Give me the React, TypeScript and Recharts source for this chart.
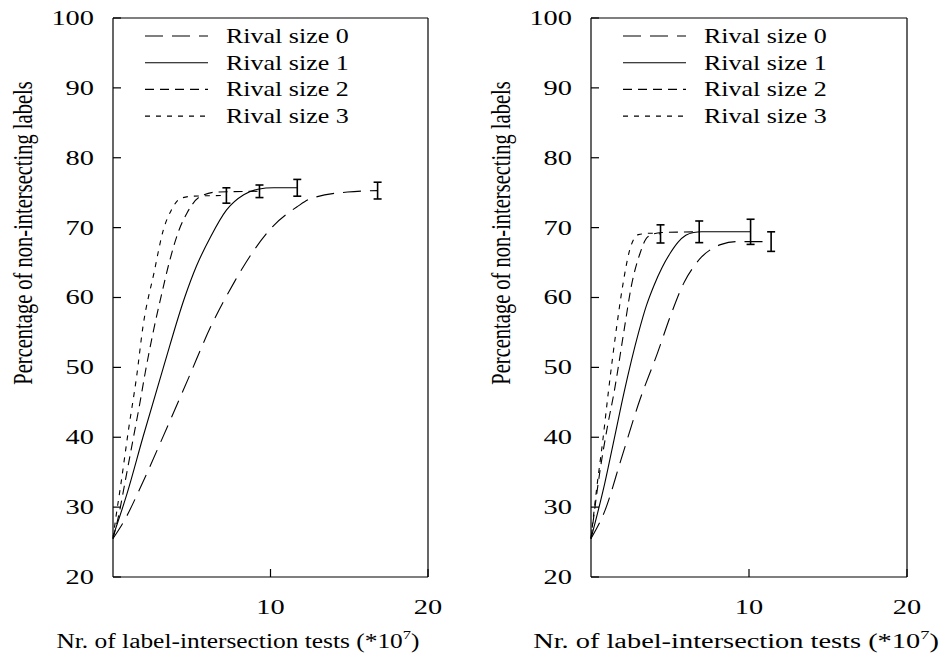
import { LineChart, Line, XAxis, YAxis, ErrorBar } from "recharts";

// gnuplot-ish look: Times-like serif, text stretched horizontally like the original figure
const FONT = "'Liberation Serif', 'DejaVu Serif', serif";
const FS = 20;
const SX = 1.3;
const TICK_SX = 1.42;

const yTicks = [20, 30, 40, 50, 60, 70, 80, 90, 100];
const xTicks = [10, 20];
const seriesNames = ["Rival size 0", "Rival size 1", "Rival size 2", "Rival size 3"];
const dashes = ["18 9", "", "9 6", "5 6"];

type Pt = [number, number];

// left panel curves (x in 10^7 tests, y in %)
const leftRival0: Pt[] = [[0, 25.5], [0.7, 28], [1.9, 33.6], [3.2, 40.2], [4.8, 48.5], [6.2, 55.8], [7.7, 62.2], [8.9, 66.6], [10.2, 70.3], [11.7, 73], [12.5, 74.1], [14.9, 75.1], [16.8, 75.3]];
const leftRival1: Pt[] = [[0, 25.8], [0.9, 32], [1.9, 40], [3.2, 50], [4.55, 60], [5.3, 64.5], [6.2, 68.7], [7.2, 72.5], [8.3, 74.7], [9.2, 75.5], [10.2, 75.7], [11.7, 75.7]];
const leftRival2: Pt[] = [[0, 25.5], [0.35, 28.7], [0.8, 34], [1.3, 40], [1.7, 44.8], [2.05, 49.3], [2.5, 54.5], [3.1, 60.6], [3.5, 64.4], [4.2, 69.7], [4.7, 72.1], [5.5, 74.4], [6.6, 75.1], [9.3, 75.2]];
const leftRival3: Pt[] = [[0, 25.5], [0.15, 28], [0.5, 33.3], [1.0, 41.3], [1.5, 48.7], [1.9, 55.8], [2.6, 63.5], [3.2, 69.7], [3.7, 72.5], [4.3, 74.2], [5.1, 74.5], [7.2, 74.6]];
const leftErrors = [1.2, 1.2, 0.9, 1.1];

// right panel curves
const rightRival0: Pt[] = [[0, 25.5], [0.9, 29.6], [1.9, 36.8], [3.1, 45.4], [4.2, 52], [5.1, 57.8], [5.9, 62.2], [6.5, 64.4], [7.0, 65.8], [7.6, 66.9], [8.25, 67.6], [9.3, 68], [11.4, 68]];
const rightRival1: Pt[] = [[0, 25.5], [0.87, 33.4], [1.5, 40.1], [2.1, 46.5], [3.0, 54.9], [3.5, 58.8], [4.0, 61.8], [4.5, 64.3], [5.0, 66.3], [5.5, 67.9], [6.0, 68.9], [6.5, 69.3], [7.0, 69.4], [10.1, 69.4]];
const rightRival2: Pt[] = [[0, 25.5], [0.55, 34.9], [1.08, 42], [1.45, 46.3], [2.1, 55.4], [2.55, 61.6], [3.1, 66.3], [3.6, 68.7], [4.45, 69.3], [6.85, 69.4]];
const rightRival3: Pt[] = [[0, 25.5], [0.35, 32.5], [0.75, 39.6], [1.1, 46.5], [1.6, 55.4], [2.0, 61.6], [2.45, 66.8], [3.0, 69.0], [3.8, 69.2], [4.4, 69.1]];
const rightErrors = [1.4, 1.8, 1.55, 1.3];

// error bar only on the last measured point of each curve
const toRows = (pts: Pt[], err: number) =>
  pts.map(([x, y], i) => ({ x, y, err: i === pts.length - 1 ? err : undefined }));

const txt = { fontFamily: FONT, fontSize: FS, fill: "#000" };
const axisLine = { stroke: "#000", strokeWidth: 1.2 };

const YTickLeft = (p: any) => (
  <g>
    <line x1={p.x} x2={p.x + 8} y1={p.y} y2={p.y} stroke="#000" strokeWidth={1.2} />
    <text transform={`translate(${p.x - 19},${p.y}) scale(${TICK_SX},1)`} textAnchor="end" dominantBaseline="central" {...txt}>
      {p.payload.value}
    </text>
  </g>
);
const YTickRight = (p: any) => (
  <line x1={p.x - 8} x2={p.x} y1={p.y} y2={p.y} stroke="#000" strokeWidth={1.2} />
);
const XTickBottom = (p: any) => (
  <g>
    <line x1={p.x} x2={p.x} y1={p.y - 8} y2={p.y} stroke="#000" strokeWidth={1.2} />
    <text transform={`translate(${p.x},${p.y + 30}) scale(${TICK_SX},1)`} textAnchor="middle" dominantBaseline="central" {...txt}>
      {p.payload.value}
    </text>
  </g>
);
const XTickTop = (p: any) => (
  <line x1={p.x} x2={p.x} y1={p.y} y2={p.y + 8} stroke="#000" strokeWidth={1.2} />
);

const W = 472;
const H = 657;
const TOP = 18;
const BOTTOM = 80;
const AX = 1; // axis band thickness, kept minimal so the margins place the plot box

interface PanelProps {
  series: Pt[][];
  errors: number[];
  plotLeft: number;
  marginRight: number;
  titleCenter: number;
  titleScale: number;
}

const Panel = ({ series, errors, plotLeft, marginRight, titleCenter, titleScale }: PanelProps) => {
  const rows = series.map((s, i) => toRows(s, errors[i]));
  return (
    <div style={{ position: "relative", width: W, height: H }}>
      <LineChart width={W} height={H}
        margin={{ top: TOP - AX, right: marginRight - AX, bottom: BOTTOM - AX, left: plotLeft - AX }}>
        <XAxis xAxisId="bottom" type="number" dataKey="x" domain={[0, 20]} ticks={xTicks} interval={0} height={AX}
          tickSize={0} tickMargin={0} tickLine={false} axisLine={axisLine} tick={(p: any) => <XTickBottom {...p} />} />
        <XAxis xAxisId="top" orientation="top" type="number" dataKey="x" domain={[0, 20]} ticks={xTicks} interval={0} height={AX}
          tickSize={0} tickMargin={0} tickLine={false} axisLine={axisLine} tick={(p: any) => <XTickTop {...p} />} />
        <YAxis yAxisId="left" type="number" domain={[20, 100]} ticks={yTicks} interval={0} width={AX}
          tickSize={0} tickMargin={0} tickLine={false} axisLine={axisLine} tick={(p: any) => <YTickLeft {...p} />} />
        <YAxis yAxisId="right" orientation="right" type="number" domain={[20, 100]} ticks={yTicks} interval={0} width={AX}
          tickSize={0} tickMargin={0} tickLine={false} axisLine={axisLine} tick={(p: any) => <YTickRight {...p} />} />
        {rows.map((data, i) => (
          <Line key={seriesNames[i]} xAxisId="bottom" yAxisId="left" data={data} dataKey="y" name={seriesNames[i]}
            type="monotone" stroke="#000" strokeWidth={1.1} strokeDasharray={dashes[i] || undefined} dot={false}
            isAnimationActive={false}>
            <ErrorBar dataKey="err" width={4} stroke="#000" strokeWidth={1.6} direction="y" />
          </Line>
        ))}
      </LineChart>
      <svg width={W} height={H} style={{ position: "absolute", left: 0, top: 0, pointerEvents: "none" }}>
        {seriesNames.map((name, i) => {
          const y = 36 + i * 26.7;
          return (
            <g key={name}>
              <line x1={plotLeft + 32} x2={plotLeft + 95} y1={y} y2={y} stroke="#000" strokeWidth={1.1}
                strokeDasharray={dashes[i] || undefined} />
              <text transform={`translate(${plotLeft + 113},${y}) scale(${SX},1)`} dominantBaseline="central" {...txt}>
                {name}
              </text>
            </g>
          );
        })}
        <text transform={`translate(${plotLeft - 90},233) scale(${SX},1) rotate(-90)`} textAnchor="middle"
          dominantBaseline="central" {...txt} fontSize={20.5}>
          Percentage of non-intersecting labels
        </text>
        <text transform={`translate(${titleCenter},648) scale(${titleScale},1)`} textAnchor="middle" {...txt}>
          Nr. of label-intersection tests (*10<tspan dy={-9} fontSize={13}>7</tspan><tspan dy={9}>)</tspan>
        </text>
      </svg>
    </div>
  );
};

export default function App() {
  return (
    <div style={{ position: "absolute", left: 0, top: 0, width: 944, height: 657, display: "flex", background: "#fff" }}>
      <Panel series={[leftRival0, leftRival1, leftRival2, leftRival3]} errors={leftErrors}
        plotLeft={113} marginRight={44} titleCenter={238} titleScale={1.27} />
      <Panel series={[rightRival0, rightRival1, rightRival2, rightRival3]} errors={rightErrors}
        plotLeft={119} marginRight={37} titleCenter={264} titleScale={1.42} />
    </div>
  );
}
